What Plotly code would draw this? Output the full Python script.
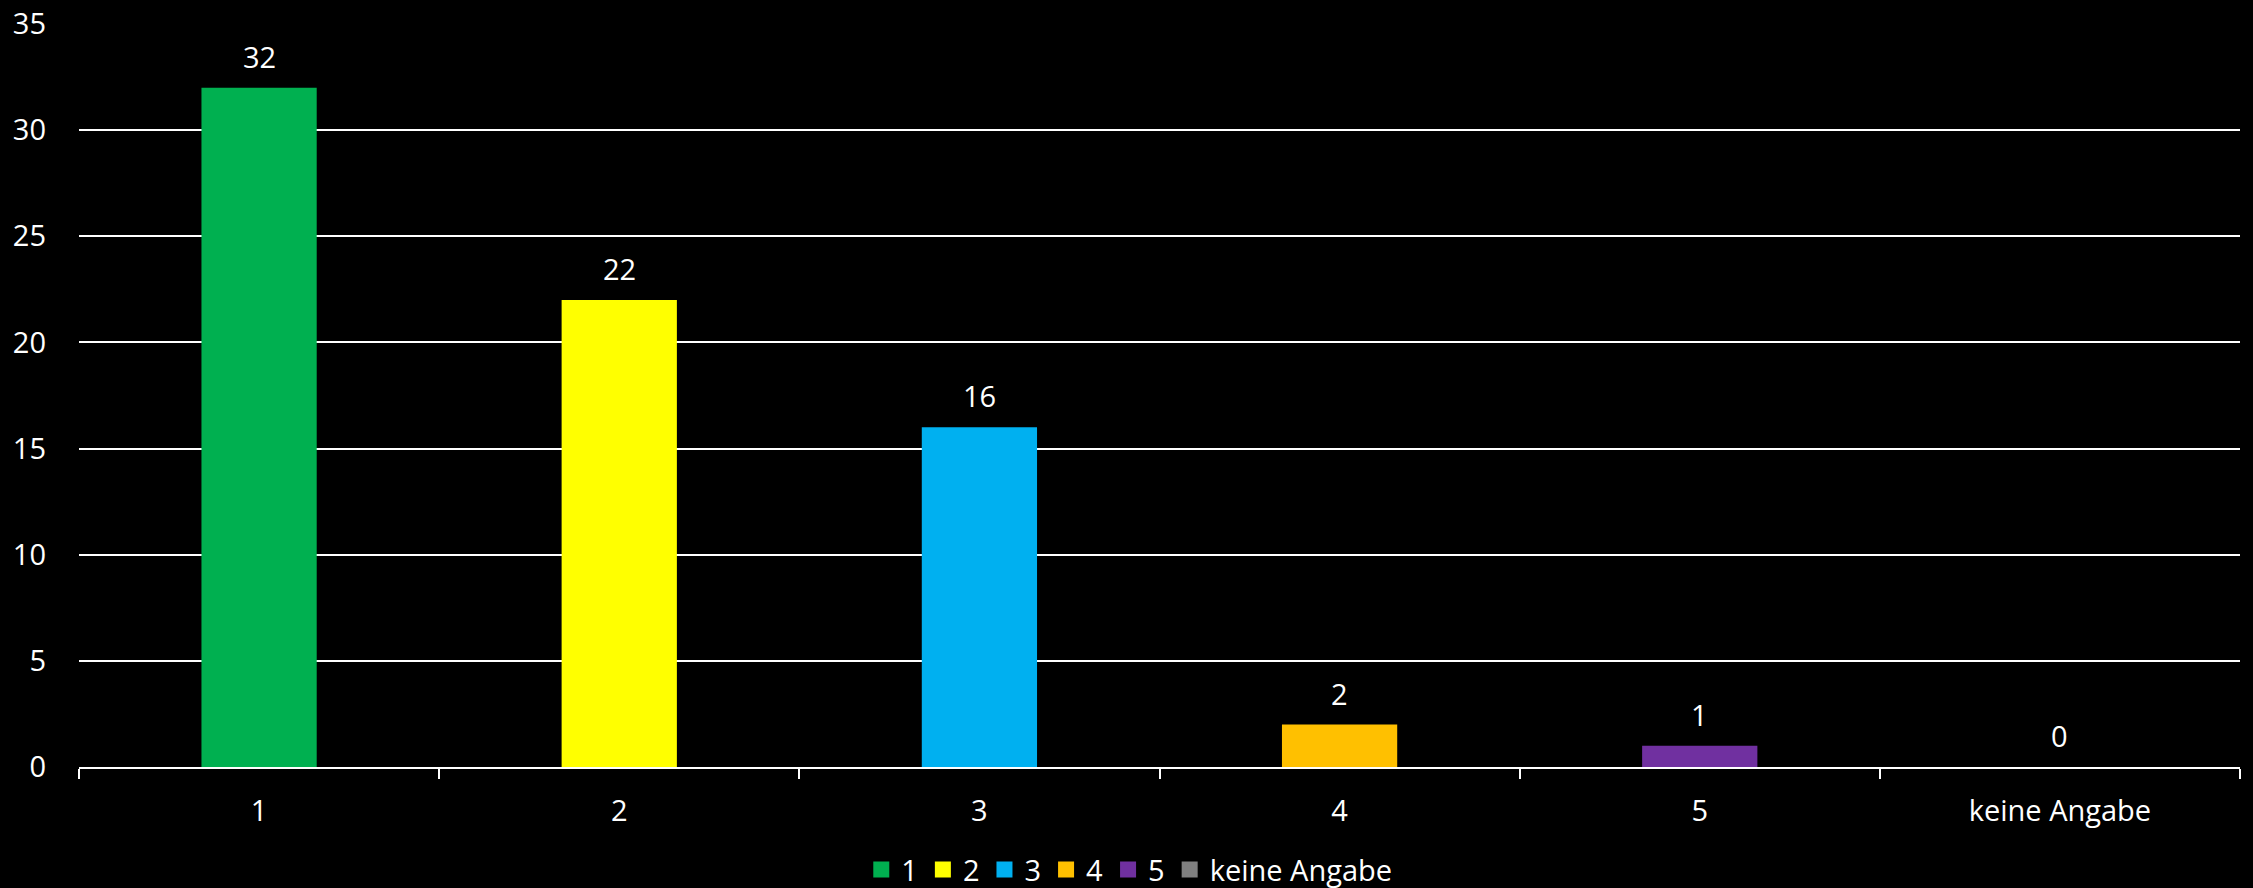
import plotly.graph_objects as go

categories = ["1", "2", "3", "4", "5", "keine Angabe"]
values = [32, 22, 16, 2, 1, 0]
colors = ["#00B050", "#FFFF00", "#00B0F0", "#FFC000", "#7030A0", "#808080"]
y_ticks = [0, 5, 10, 15, 20, 25, 30, 35]

FONT = "'Open Sans', Lato, 'DejaVu Sans', sans-serif"
FS = 29

fig = go.Figure()
for i, (cat, val, col) in enumerate(zip(categories, values, colors)):
    fig.add_trace(go.Bar(
        x=[cat], y=[val], name=cat,
        marker=dict(color=col, line=dict(width=0)),
        width=0.32, showlegend=False,
    ))
    fig.add_annotation(x=i, y=val, text=str(val), showarrow=False,
                       yanchor="bottom", yshift=10,
                       font=dict(color="white", size=FS, family=FONT))
    # legend entry with a square marker
    fig.add_trace(go.Scatter(
        x=[None], y=[None], mode="markers", name=cat,
        marker=dict(symbol="square", size=16, color=col),
        showlegend=True,
    ))

fig.update_layout(
    width=2253, height=888,
    paper_bgcolor="black", plot_bgcolor="black",
    barmode="overlay",
    margin=dict(l=79, r=13, t=24, b=121, autoexpand=False),
    font=dict(family=FONT, color="white", size=FS),
    showlegend=True,
    legend=dict(orientation="h", x=0.362, xanchor="left", y=-0.138, yanchor="middle",
                font=dict(size=FS, color="white"), itemwidth=30, tracegroupgap=0,
                itemsizing="trace"),
    xaxis=dict(
        type="category", categoryorder="array", categoryarray=categories,
        range=[-0.5, len(categories) - 0.5], automargin=False,
        showgrid=False, showline=True, linecolor="white", linewidth=2,
        ticks="outside", tickson="boundaries", ticklen=10, tickwidth=2, tickcolor="white",
        tickfont=dict(size=FS, color="white"), ticklabelstandoff=17,
    ),
    yaxis=dict(
        range=[0, 35], tickvals=y_ticks, showgrid=True, gridcolor="white", gridwidth=1.5,
        zeroline=False, showline=False, ticks="", automargin=False,
        tickfont=dict(size=FS, color="white"), ticklabelstandoff=32,
    ),
)

fig.write_html(
    "out.html",
    config={"displayModeBar": False},
    post_script="document.body.style.margin='0';document.body.style.background='black';",
)
